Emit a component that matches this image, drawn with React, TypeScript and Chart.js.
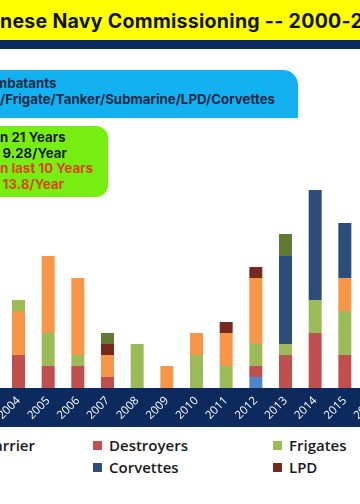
import React, { useEffect, useRef } from "react";
import { Chart, registerables } from "chart.js";

Chart.register(...registerables);

// ---- data ----
const years = [
  "2000", "2001", "2002", "2003", "2004", "2005", "2006", "2007", "2008", "2009", "2010",
  "2011", "2012", "2013", "2014", "2015", "2016", "2017", "2018", "2019", "2020",
];
const carrier = [0, 0, 0, 0, 0, 0, 0, 0, 0, 0, 0, 0, 1, 0, 0, 0, 0, 0, 0, 1, 0];
const destroyers = [0, 0, 1, 1, 3, 2, 2, 1, 0, 0, 0, 0, 1, 3, 5, 3, 3, 4, 3, 4, 5];
const frigates = [1, 1, 1, 1, 0, 3, 1, 0, 4, 0, 3, 2, 2, 1, 3, 4, 4, 3, 2, 1, 1];
const submarine = [1, 1, 1, 2, 4, 7, 7, 2, 0, 2, 2, 3, 6, 0, 0, 3, 2, 2, 3, 2, 3];
const corvettes = [0, 0, 0, 0, 0, 0, 0, 0, 0, 0, 0, 0, 0, 8, 10, 5, 6, 6, 5, 3, 4];
const lpd = [0, 0, 0, 0, 0, 0, 0, 1, 0, 0, 0, 1, 1, 0, 0, 0, 0, 1, 0, 1, 1];
const tanker = [0, 0, 0, 0, 0, 0, 0, 1, 0, 0, 0, 0, 0, 2, 0, 0, 1, 1, 1, 0, 1];
const others = [0, 0, 0, 0, 1, 0, 0, 0, 0, 0, 0, 0, 0, 0, 0, 0, 0, 0, 0, 0, 0];

const seriesNames = ["Carrier", "Destroyers", "Frigates", "Submarine", "Corvettes", "LPD", "Tanker", "Others"];
const seriesColors = ["#4f86c6", "#c0504d", "#9bbb59", "#f79646", "#2c4d7a", "#75291f", "#617a33", "#9bbb59"];
const seriesData = [carrier, destroyers, frigates, submarine, corvettes, lpd, tanker, others];

const titleText = ["Chi", "nese Navy Commissioning -- 2000-2020"];
const NAVY = "#0c2a5e";

const legendSlots: Record<string, { col: number; row: number }> = {
  Destroyers: { col: 0, row: 0 },
  Frigates: { col: 1, row: 0 },
  Corvettes: { col: 0, row: 1 },
  LPD: { col: 1, row: 1 },
  Submarine: { col: 2, row: 0 },
  Tanker: { col: 2, row: 1 },
  Others: { col: 3, row: 0 },
};

function Anchored({ prefix, rest, style }: { prefix: string; rest: string; style: React.CSSProperties }) {
  return (
    <div style={{ position: "absolute", whiteSpace: "pre", ...style }}>
      <span style={{ position: "absolute", right: "100%", top: 0, whiteSpace: "pre" }}>{prefix}</span>
      {rest}
    </div>
  );
}

export default function App() {
  const ref = useRef<HTMLCanvasElement>(null);

  useEffect(() => {
    if (!ref.current) return;
    const band = {
      id: "band",
      beforeDraw(chart: any) {
        const { ctx, chartArea } = chart;
        ctx.save();
        ctx.fillStyle = NAVY;
        ctx.fillRect(0, chartArea.bottom, chart.width, 39);
        ctx.restore();
      },
    };
    const chart = new Chart(ref.current, {
      type: "bar",
      data: {
        labels: years,
        datasets: seriesNames.map((name, i) => ({
          label: name,
          data: seriesData[i],
          backgroundColor: seriesColors[i],
          borderWidth: 0,
          barPercentage: 0.438,
          categoryPercentage: 1,
        })),
      },
      options: {
        responsive: false,
        animation: false,
        devicePixelRatio: 1,
        layout: { padding: { top: 16, left: 0, right: 0, bottom: 0 } },
        plugins: { legend: { display: false }, tooltip: { enabled: false } },
        scales: {
          x: {
            stacked: true,
            grid: { display: false, drawTicks: false },
            border: { display: false },
            ticks: {
              color: "#ffffff",
              font: { family: "Open Sans", size: 11.5 },
              minRotation: 45,
              maxRotation: 45,
              autoSkip: false,
              padding: 6,
            },
            afterFit(s: any) {
              s.height = 39;
              s.paddingLeft = 0;
              s.paddingRight = 0;
            },
          },
          y: { stacked: true, display: false, min: 0, max: 22 },
        },
      },
      plugins: [band],
    });
    return () => chart.destroy();
  }, []);

  const text13: React.CSSProperties = { fontFamily: "Inter", fontWeight: 700, fontSize: 13.3, lineHeight: "16px" };
  const legendFont: React.CSSProperties = {
    fontFamily: "Open Sans",
    fontWeight: 600,
    fontSize: 15,
    lineHeight: "20px",
    color: "#1a1a1a",
  };

  return (
    <div
      style={{
        position: "fixed",
        left: 0,
        top: 0,
        width: 360,
        height: 504,
        overflow: "hidden",
        background: "#ffffff",
      }}
    >
      <canvas
        ref={ref}
        width={623}
        height={297}
        style={{ position: "absolute", left: -115, top: 130, width: 623, height: 297 }}
      />

      {/* title */}
      <div style={{ position: "absolute", left: 0, top: 0, width: 360, height: 40, background: "#ffff00" }} />
      <div style={{ position: "absolute", left: 0, top: 40, width: 360, height: 9, background: NAVY }} />
      <Anchored
        prefix={titleText[0]}
        rest={titleText[1]}
        style={{ left: 0, top: 11, fontFamily: "Inter", fontWeight: 700, fontSize: 19.5, lineHeight: "20px", color: "#111", letterSpacing: 0.3 }}
      />

      {/* blue box */}
      <div
        style={{
          position: "absolute",
          left: -20,
          top: 70,
          width: 318,
          height: 48,
          background: "#14b1f1",
          borderTopRightRadius: 15,
        }}
      />
      <Anchored prefix="Major Co" rest="mbatants" style={{ ...text13, left: -5, top: 74.5, color: "#1c2a48" }} />
      <Anchored
        prefix="Destroyer"
        rest="/Frigate/Tanker/Submarine/LPD/Corvettes"
        style={{ ...text13, left: 0, top: 91.3, color: "#1c2a48" }}
      />

      {/* green box */}
      <div
        style={{
          position: "absolute",
          left: -20,
          top: 126,
          width: 128,
          height: 71,
          background: "#76ee11",
          borderTopRightRadius: 12,
          borderBottomRightRadius: 12,
        }}
      />
      <Anchored prefix="195 Ships i" rest="n 21 Years" style={{ ...text13, left: 0, top: 129, color: "#161616" }} />
      <Anchored prefix="Average" rest={"\u00a09.28/Year"} style={{ ...text13, left: -0.6, top: 144.6, color: "#161616" }} />
      <Anchored prefix="138 Ships i" rest="n last 10 Years" style={{ ...text13, left: 0, top: 160.3, color: "#e23d14" }} />
      <Anchored prefix="Average" rest={"\u00a013.8/Year"} style={{ ...text13, left: -0.6, top: 176, color: "#e23d14" }} />

      {/* legend */}
      <div
        style={{
          position: "absolute",
          right: 360 - 35,
          top: 435,
          display: "flex",
          alignItems: "center",
          whiteSpace: "nowrap",
          ...legendFont,
        }}
      >
        <span style={{ display: "inline-block", width: 9, height: 9, background: seriesColors[0], marginRight: 7 }} />
        {seriesNames[0]}
      </div>
      {seriesNames.slice(1).map((name, k) => {
        const i = k + 1;
        const slot = legendSlots[name];
        return (
          <div
            key={name}
            style={{
              position: "absolute",
              left: 93 + slot.col * 180,
              top: 435 + slot.row * 22,
              display: "flex",
              alignItems: "center",
              whiteSpace: "nowrap",
              ...legendFont,
            }}
          >
            <span style={{ display: "inline-block", width: 9, height: 9, background: seriesColors[i], marginRight: 7 }} />
            {name}
          </div>
        );
      })}
    </div>
  );
}
